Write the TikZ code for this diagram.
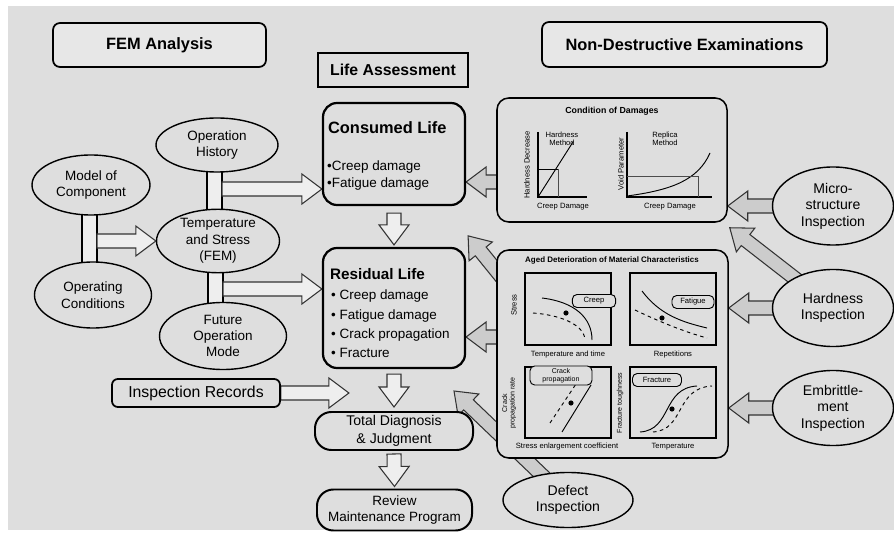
\documentclass[tikz,border=0pt]{standalone}
\usepackage{fontspec}
\setmainfont{Liberation Sans}
\usetikzlibrary{calc,positioning,shapes.geometric}

\pgfdeclarelayer{backdrop}
\pgfdeclarelayer{links}
\pgfsetlayers{backdrop,links,main}

\definecolor{bgcol}{RGB}{222,222,222}
\definecolor{hdrcol}{RGB}{231,231,231}
\definecolor{grayarrow}{RGB}{204,204,204}
\definecolor{whitearrow}{RGB}{238,238,238}

\newcommand{\fsz}[2]{\fontsize{#1}{#2}\selectfont}
\newcommand{\shaftw}{0.21cm}
\newcommand{\headw}{0.45cm}
\newcommand{\headl}{0.6cm}

% fat block arrow from #2 to #3
\newcommand{\fatarrow}[3][whitearrow]{%
  \draw[arrowline, fill=#1]
    ($(#2)!\shaftw!90:(#3)$) --
    ($(#3)!\headl!(#2)!\shaftw!-90:(#2)$) --
    ($(#3)!\headl!(#2)!\headw!-90:(#2)$) --
    (#3) --
    ($(#3)!\headl!(#2)!\headw!90:(#2)$) --
    ($(#3)!\headl!(#2)!\shaftw!90:(#2)$) --
    ($(#2)!\shaftw!-90:(#3)$) -- cycle;
}

\tikzset{
  every node/.style={inner sep=0pt},
  oval/.style={ellipse, draw, line width=1.2pt, fill=bgcol, align=center, font=\fsz{11.5}{14}},
  header/.style={draw, line width=1.5pt, rounded corners=6pt, fill=hdrcol, font=\bfseries\fsz{14}{16}},
  lifebox/.style={draw, line width=1.9pt, rounded corners=12pt, fill=bgcol},
  pillbox/.style={draw, line width=1.7pt, rounded corners=14pt, fill=bgcol, align=center, font=\fsz{12}{15}},
  panel/.style={draw, line width=1.3pt, rounded corners=10pt, fill=bgcol},
  arrowline/.style={draw=black!80, line width=0.9pt, line join=miter},
  barline/.style={draw, line width=1.1pt, fill=whitearrow},
  smalltext/.style={font=\fsz{6.5}{7}},
  tag/.style={draw, line width=0.8pt, rounded corners=4pt, fill=bgcol, minimum height=0.39cm, align=center, font=\fsz{6.5}{7}},
  axisline/.style={line width=1.2pt},
  thinline/.style={line width=0.8pt},
  plotbox/.style={draw, line width=1pt},
}

\begin{document}
\begin{tikzpicture}[x=0.03cm, y=-0.03cm]
\useasboundingbox (0,0) rectangle (894,541);
\begin{pgfonlayer}{backdrop}
  \fill[bgcol] (8,6) rectangle (894,530);
\end{pgfonlayer}

% headings
\node[header, minimum width=6.39cm, minimum height=1.32cm] (fem) at (159.5,45) {FEM Analysis};
\node[header, minimum width=8.55cm, minimum height=1.35cm] (nde) at (684.5,44.5) {Non-Destructive Examinations};
\node[draw, line width=1.9pt, fill=bgcol, font=\bfseries\fsz{13.5}{15}, minimum width=4.5cm, minimum height=1.02cm] (lifeass) at (393,70) {Life Assessment};

% FEM side
\node[oval, minimum width=3.66cm, minimum height=1.62cm] (ophist) at (217,145) {Operation\\History};
\node[oval, minimum width=3.54cm, minimum height=1.8cm] (model) at (91,185) {Model of\\Component};
\node[oval, minimum width=3.69cm, minimum height=1.86cm] (tempstress) at (218,241) {Temperature\\and Stress\\(FEM)};
\node[oval, minimum width=3.51cm, minimum height=1.98cm] (operating) at (93,295) {Operating\\Conditions};
\node[oval, minimum width=3.81cm, minimum height=2.01cm] (future) at (223,336) {Future\\Operation\\Mode};
\node[draw, line width=1.5pt, rounded corners=5pt, fill=bgcol, font=\fsz{13.5}{15}, minimum width=5.04cm, minimum height=0.84cm] (insprec) at (196,393) {Inspection Records};

% life assessment column
\node[lifebox, minimum width=4.26cm, minimum height=3.06cm] (consumed) at (394,154) {};
\node[font=\bfseries\fsz{14}{16}, anchor=west] (constitle) at ($(consumed.north west)+(6,26)$) {Consumed Life};
\node[font=\fsz{11.5}{14.5}, anchor=west, align=left] (consitems) at ($(consumed.west)+(5,21.5)$) {•Creep damage\\•Fatigue damage};
\node[lifebox, minimum width=4.26cm, minimum height=3.6cm] (residual) at (394,308) {};
\node[font=\bfseries\fsz{13}{15}, anchor=west] (restitle) at ($(residual.north west)+(8,27)$) {Residual Life};
\node[font=\fsz{11.5}{16.5}, anchor=west, align=left] (resitems) at ($(residual.west)+(9,16)$) {• Creep damage\\• Fatigue damage\\• Crack propagation\\• Fracture};
\node[pillbox, minimum width=4.74cm, minimum height=1.14cm] (total) at (394,431) {Total Diagnosis\\\& Judgment};
\node[pillbox, font=\fsz{11.5}{13.5}, minimum width=4.65cm, minimum height=1.23cm] (review) at (394.5,510) {Review\\Maintenance Program};

% examinations side
\node[panel, minimum width=6.9cm, minimum height=3.72cm] (damage) at (612,160) {};
\node[panel, minimum width=6.93cm, minimum height=6.24cm] (aged) at (612.5,354) {};
\node[oval, font=\fsz{12}{14}, minimum width=3.63cm, minimum height=2.34cm] (micro) at (833,206) {Micro-\\structure\\Inspection};
\node[oval, font=\fsz{12}{14}, minimum width=3.63cm, minimum height=2.31cm] (hardness) at (833,308) {Hardness\\Inspection};
\node[oval, font=\fsz{12}{14}, minimum width=3.63cm, minimum height=2.25cm] (embrit) at (833,408) {Embrittle-\\ment\\Inspection};
\node[oval, font=\fsz{12}{14}, minimum width=3.9cm, minimum height=1.65cm] (defect) at (568,500) {Defect\\Inspection};

% arrow ends
\coordinate (histout) at (222,189);
\coordinate (histin) at (histout -| consumed.west);
\coordinate (modelout) at (97,241);
\coordinate (futout) at (223,289);
\coordinate (futin) at (futout -| residual.west);
\coordinate (cr1) at ($(consumed.south)+(0,7)$);
\coordinate (cr2) at ($(residual.north)+(0,-2)$);
\coordinate (rt1) at ($(residual.south)+(0,5)$);
\coordinate (rt2) at ($(total.north)+(0,-4)$);
\coordinate (tr1) at ($(total.south)+(0,3)$);
\coordinate (tr2) at ($(review.north)+(0,-2)$);
\coordinate (recin) at ($(insprec.east)+(68,0)$);
\coordinate (dmgout) at (512,182);
\coordinate (dmgin) at (dmgout -| consumed.east);
\coordinate (agedout) at (512,337);
\coordinate (agedin) at (agedout -| residual.east);
\coordinate (microin) at (micro.center -| damage.east);
\coordinate (hardin) at (hardness.center -| aged.east);
\coordinate (embin) at (embrit.center -| aged.east);
\coordinate (harddiag) at ($(damage.south east)+(2,5)$);
\coordinate (agedcorner) at (512,290);
\coordinate (ageddiag) at ($(residual.north east)+(2,-11)$);
\coordinate (defectdiag) at ($(total.north east)+(-20,-20)$);

\begin{pgfonlayer}{links}
  \draw[barline] ($(ophist.center)+(-10,0)$) rectangle ($(tempstress.center)+(4,0)$);
  \draw[barline] ($(model.center)+(-9,0)$) rectangle ($(operating.center)+(4,0)$);
  \draw[barline] ($(tempstress.center)+(-10,0)$) rectangle ($(future.center)+(0,0)$);
  \fatarrow{histout}{histin}
  \fatarrow{modelout}{tempstress.west}
  \fatarrow{futout}{futin}
  \fatarrow{cr1}{cr2}
  \fatarrow{rt1}{rt2}
  \fatarrow{tr1}{tr2}
  \fatarrow{insprec.east}{recin}
  \fatarrow[grayarrow]{dmgout}{dmgin}
  \fatarrow[grayarrow]{agedout}{agedin}
  \fatarrow[grayarrow]{micro.center}{microin}
  \fatarrow[grayarrow]{hardness.center}{hardin}
  \fatarrow[grayarrow]{embrit.center}{embin}
  \fatarrow[grayarrow]{hardness.center}{harddiag}
  \fatarrow[grayarrow]{agedcorner}{ageddiag}
  \fatarrow[grayarrow]{defect.center}{defectdiag}
\end{pgfonlayer}

% condition of damages
\node[font=\bfseries\fsz{7.5}{8}] (dmgtitle) at (612,111) {Condition of Damages};
\draw[axisline] (538,132) -- (538,197) -- (587,197);
\draw[thinline] (538,197) -- (573,142);
\draw[thinline] (538,169) -- (558,169);
\draw[thinline, black!70] (558,169) -- (558,197);
\node[smalltext, align=center] (hmethod) at (562,139) {Hardness\\Method};
\node[smalltext, rotate=90] (hdecr) at (527,165) {Hardness Decrease};
\node[smalltext] (cdamage1) at (563,207) {Creep Damage};
\draw[axisline] (627,132) -- (627,197) -- (712,197);
\draw[thinline] (627,196) .. controls (672,190) and (698,180) .. (710,153);
\draw[thinline, black!70] (627,176) -- (698,176) -- (698,197);
\node[smalltext, align=center] (rmethod) at (665,139) {Replica\\Method};
\node[smalltext, rotate=90] (voidp) at (621,164) {Void Parameter};
\node[smalltext] (cdamage2) at (670,207) {Creep Damage};

% aged deterioration
\node[font=\bfseries\fsz{6.8}{7}] (agedtitle) at (612,260) {Aged Deterioration of Material Characteristics};
\draw[plotbox] (525,273) rectangle (611,345);
\draw[plotbox] (630,273) rectangle (716,345);
\draw[plotbox] (525,367) rectangle (611,438);
\draw[plotbox] (630,367) rectangle (716,438);

\draw[thinline] (542,298) .. controls (575,302) and (592,318) .. (592,340);
\draw[thinline, dashed] (533,313) .. controls (560,315) and (582,324) .. (585,338);
\fill (566,313) circle (2.2pt);
\node[tag, minimum width=1.3cm] (creeptag) at (594,301) {Creep};
\node[smalltext, rotate=90] (stresslab) at (514,305) {Stress};
\node[smalltext] (temptime) at (568,355) {Temperature and time};

\draw[thinline] (642,291) .. controls (660,315) and (682,322) .. (707,328);
\draw[thinline, dashed] (635,310) .. controls (660,322) and (685,332) .. (707,338);
\fill (662,318) circle (2.2pt);
\node[tag, minimum width=1.26cm] (fatiguetag) at (693,302) {Fatigue};
\node[smalltext] (repet) at (673,355) {Repetitions};

\draw[thinline] (562,432) -- (591,385);
\draw[thinline, dashed] (550,423) -- (576,384);
\fill (571,403) circle (2.2pt);
\node[tag, font=\fsz{6}{6.5}, minimum width=1.86cm, minimum height=0.57cm] (cracktag) at (561,375.5) {Crack\\propagation};
\node[rotate=90, align=center, font=\fsz{6}{6.5}] (cracklab) at (509,403) {Crack\\propagation rate};
\node[smalltext] (stressenl) at (567,447) {Stress enlargement coefficient};

\draw[thinline] (640,432) .. controls (672,430) and (662,388) .. (697,386);
\draw[thinline, dashed] (653,432) .. controls (685,430) and (675,388) .. (712,386);
\fill (672,409) circle (2.2pt);
\node[tag, minimum width=1.47cm] (fracttag) at (657,380) {Fracture};
\node[rotate=90, font=\fsz{6}{6.5}] (toughlab) at (620,403) {Fracture toughness};
\node[smalltext] (templab) at (673,447) {Temperature};
\end{tikzpicture}
\end{document}
